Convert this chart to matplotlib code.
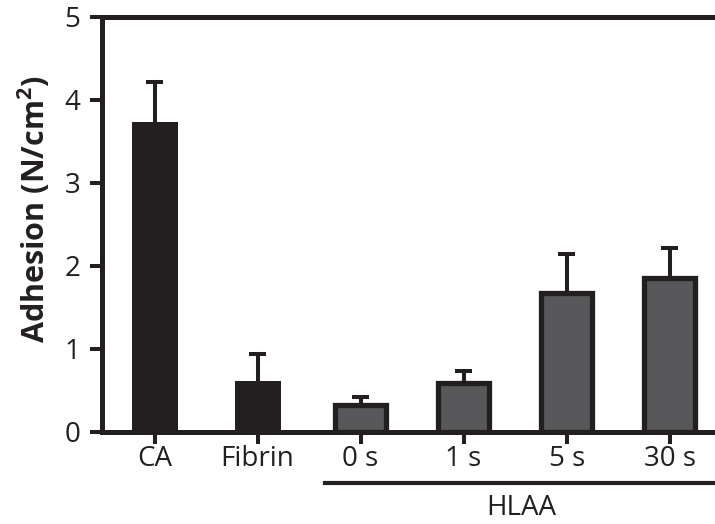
import matplotlib
matplotlib.use("Agg")
import matplotlib.pyplot as plt
from matplotlib.lines import Line2D

categories = ["CA", "Fibrin", "0 s", "1 s", "5 s", "30 s"]
values = [3.73, 0.61, 0.32, 0.59, 1.67, 1.85]
errors = [0.48, 0.33, 0.10, 0.15, 0.47, 0.37]
group_label = "HLAA"
yticks = [0, 1, 2, 3, 4, 5]

DARK = "#231f20"
GRAY = "#58585a"

plt.rcParams["font.family"] = ["Open Sans", "DejaVu Sans"]
plt.rcParams["mathtext.fontset"] = "custom"
plt.rcParams["mathtext.rm"] = "Open Sans:bold"
plt.rcParams["mathtext.bf"] = "Open Sans:bold"
plt.rcParams["mathtext.it"] = "Open Sans:bold"

fig = plt.figure(figsize=(7.15, 5.24), dpi=100)
ax = fig.add_axes([102 / 715, 92 / 524, 613 / 715, 415.3 / 524])

x = list(range(len(categories)))
cap_half = 0.08
for i, (v, e) in enumerate(zip(values, errors)):
    ax.vlines(i, v, v + e, color=DARK, linewidth=2.9, zorder=2)
    ax.hlines(v + e, i - cap_half, i + cap_half, color=DARK, linewidth=2.9,
              zorder=2)
    if i < 2:
        ax.bar(i, v, width=0.447, color=DARK, edgecolor="none", zorder=3)
    else:
        ax.bar(i, v, width=0.49, color=GRAY, edgecolor=DARK,
               linewidth=3.8, zorder=3)

ax.set_xlim(-0.51, 5.44)
ax.set_ylim(0, 5)
ax.set_yticks(yticks)
ax.set_xticks(x)
ax.set_xticklabels(categories)

for s in ["left", "top", "bottom"]:
    ax.spines[s].set_linewidth(3.6)
    ax.spines[s].set_color(DARK)
ax.spines["right"].set_visible(False)

ax.tick_params(axis="both", colors=DARK, labelcolor=DARK, labelsize=20,
               length=8.6, width=2.9, direction="out")
ax.tick_params(axis="x", pad=1)
ax.tick_params(axis="y", pad=7)

# group underline and label
trans = ax.get_xaxis_transform()
ax.add_line(Line2D([1.65, 5.44], [-0.123, -0.123], transform=trans,
                   color=DARK, linewidth=3.0, clip_on=False))
ax.text(3.56, -0.183, group_label, transform=trans, ha="center", va="center",
        fontsize=20, color=DARK)

fig.text(34 / 715, 1 - 209 / 524, r"Adhesion (N/cm$^{2}$)", rotation=90,
         ha="center", va="center", fontsize=22, fontweight="bold", color=DARK)

fig.savefig("out.png", dpi=100)
